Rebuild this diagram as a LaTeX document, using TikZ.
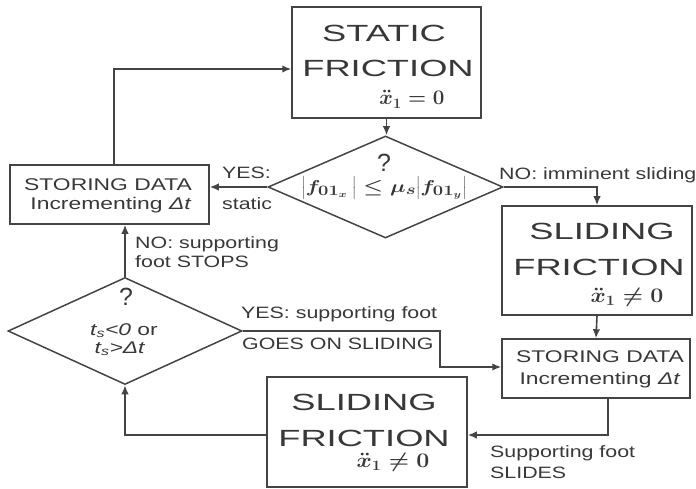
\documentclass[tikz,border=0pt]{standalone}
\usepackage{fontspec}
\usepackage{graphicx}
\setmainfont{Liberation Sans}
\newfontfamily\boxfont{Liberation Sans}[FakeStretch=1.35]
\newfontfamily\labfont{Liberation Sans}[FakeStretch=1.3]
\newfontfamily\bigfont{Liberation Sans}[FakeStretch=1.55]
\usetikzlibrary{shapes.geometric,arrows.meta,calc}
\definecolor{ink}{HTML}{383838}
\definecolor{edge}{HTML}{444444}

\tikzset{
  block/.style={draw=edge, line width=1.5bp, rectangle, inner sep=0pt},
  decision/.style={draw=edge, line width=1.5bp, diamond, inner sep=0pt},
  flow/.style={draw=edge, line width=1.6bp, -{Latex[length=9bp,width=7.5bp]}},
  bigtxt/.style={anchor=base, text=ink, inner sep=0pt, font=\bigfont\fontsize{23.5}{28}\selectfont},
  boxtxt/.style={anchor=base, text=ink, inner sep=0pt, font=\boxfont\fontsize{17}{20}\selectfont},
  labtxt/.style={anchor=base west, text=ink, inner sep=0pt, font=\labfont\fontsize{16.5}{20}\selectfont},
  mathtxt/.style={anchor=base, text=ink, inner sep=0pt, font=\fontsize{20.5}{24}\selectfont\boldmath},
  qmark/.style={anchor=base, text=ink, inner sep=0pt, font=\fontsize{25}{30}\selectfont},
}

\begin{document}
\begin{tikzpicture}[x=1bp, y=-1bp]
\useasboundingbox (0,0) rectangle (696,489);

% ---- boxes and decisions
\node[block, minimum width=189bp, minimum height=111bp] (static) at (386.5,62.5) {};
\node[decision, minimum width=235bp, minimum height=102bp] (d1) at (385.5,187) {};
\node[block, minimum width=199bp, minimum height=59bp] (st1) at (109.5,194.5) {};
\node[block, minimum width=190bp, minimum height=109bp] (sl1) at (597,260.5) {};
\node[decision, minimum width=234bp, minimum height=107bp] (d2) at (125,331) {};
\node[block, minimum width=188bp, minimum height=59bp] (st2) at (596,368.5) {};
\node[block, minimum width=200bp, minimum height=110bp] (sl2) at (367,432) {};

% ---- texts inside the shapes
\node[bigtxt] (staticA) at (384,42) {STATIC};
\node[bigtxt] (staticB) at (388,77) {FRICTION};
\node[mathtxt] (staticC) at (412,105) {$\ddot{x}_1=0$};

\node[qmark] (d1q) at (384,172) {?};
\node[mathtxt, anchor=center, font=\fontsize{19}{24}\selectfont\boldmath] (d1f) at (384,188)
  {\scalebox{1.28}[1]{$\bigg|f_{01_x}\,\bigg|\le\mu_s\bigg|f_{01_y}\bigg|$}};

\node[boxtxt] (st1A) at (108,191) {STORING DATA};
\node[boxtxt] (st1B) at (111,210) {Incrementing \textit{Δt}};

\node[bigtxt] (sl1A) at (602,240) {SLIDING};
\node[bigtxt] (sl1B) at (599,276) {FRICTION};
\node[mathtxt] (sl1C) at (627,302) {\scalebox{1.12}[1]{$\ddot{x}_1\neq0$}};

\node[qmark] (d2q) at (126,305) {?};
\node[boxtxt] (d2A) at (124,335) {\textit{t\textsubscript{s}<0} or};
\node[boxtxt] (d2B) at (120,353) {\textit{t\textsubscript{s}>Δt}};

\node[boxtxt] (st2A) at (600,362) {STORING DATA};
\node[boxtxt] (st2B) at (600,384) {Incrementing \textit{Δt}};

\node[bigtxt] (sl2A) at (364,410) {SLIDING};
\node[bigtxt] (sl2B) at (364,446) {FRICTION};
\node[mathtxt] (sl2C) at (393,467) {\scalebox{1.12}[1]{$\ddot{x}_1\neq0$}};

% ---- connectors
\coordinate (j1) at (440,0);

\draw[flow] (static.south) -- (static.south |- d1.north);
\draw[flow] (d1.west) -- (d1.west -| st1.east);
\draw[flow] ($(st1.north)+(4.5,0)$) |- ($(static.west)+(0,6.5)$);
\draw[flow] (d1.east) -| (sl1.north);
\draw[flow] (sl1.south) -- (st2.north);
\draw[flow] ($(st2.south)+(12,0)$) |- ($(sl2.east)+(0,3)$);
\draw[flow] ($(sl2.west)+(0,3)$) -| (d2.south);
\draw[flow] (d2.north) -- (d2.north |- st1.south);
\draw[flow] (d2.east) -- (d2.east -| j1) -- ($(j1 |- st2.west)+(0,-1.5)$) -- ($(st2.west)+(0,-1.5)$);

% ---- connector labels
\node[labtxt] (yes1) at (222,179) {YES:};
\node[labtxt] (yes1b) at (222,210) {static};
\node[labtxt] (no1) at (499,180) {NO: imminent sliding};
\node[labtxt] (no2a) at (135,249) {NO: supporting};
\node[labtxt] (no2b) at (135,268) {foot STOPS};
\node[labtxt] (yes2a) at (241,318) {YES: supporting foot};
\node[labtxt] (yes2b) at (242,349) {GOES ON SLIDING};
\node[labtxt] (slA) at (490,457) {Supporting foot};
\node[labtxt] (slB) at (490,478) {SLIDES};
\end{tikzpicture}
\end{document}
